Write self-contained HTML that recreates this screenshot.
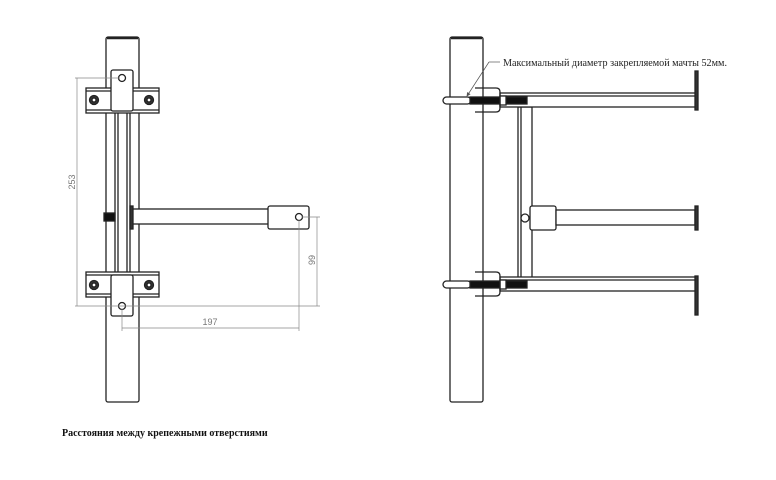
<!DOCTYPE html>
<html><head><meta charset="utf-8"><style>
body{margin:0;background:#fff;width:776px;height:480px;overflow:hidden}
svg{display:block}
</style></head><body>
<svg width="776" height="480" viewBox="0 0 776 480" xmlns="http://www.w3.org/2000/svg">
<defs>
<marker id="ar" markerWidth="6" markerHeight="6" refX="5" refY="3" orient="auto"><path d="M0,0 L6,3 L0,6 z" fill="#555"/></marker>
</defs>
<g fill="#fff" stroke="#222" stroke-width="1.3">
<!-- LEFT -->
<rect x="106" y="37" width="33" height="365" rx="2"/>
<line x1="107" y1="38" x2="138" y2="38" stroke-width="2.5"/>
<rect x="115" y="111" width="15" height="165"/>
<line x1="118" y1="111" x2="118" y2="276"/><line x1="127" y1="111" x2="127" y2="276"/>
<rect x="131" y="209" width="138" height="15"/>
<rect x="130" y="206" width="3" height="23" fill="#333"/>
<rect x="104" y="213" width="11" height="8" fill="#111"/>
<rect x="268" y="206" width="41" height="23" rx="2"/>
<circle cx="299" cy="217" r="3.5"/>
<rect x="86" y="88" width="73" height="25"/>
<line x1="86" y1="91" x2="159" y2="91"/><line x1="86" y1="110" x2="159" y2="110"/>
<rect x="111" y="70" width="22" height="41" rx="2"/>
<circle cx="122" cy="78" r="3.5"/>
<circle cx="94" cy="100" r="4.5" fill="#333"/><circle cx="94" cy="100" r="2" fill="#fff"/>
<circle cx="149" cy="100" r="4.5" fill="#333"/><circle cx="149" cy="100" r="2" fill="#fff"/>
<rect x="86" y="272" width="73" height="25"/>
<line x1="86" y1="275" x2="159" y2="275"/><line x1="86" y1="294" x2="159" y2="294"/>
<rect x="111" y="275" width="22" height="41" rx="2"/>
<circle cx="122" cy="306" r="3.5"/>
<circle cx="94" cy="285" r="4.5" fill="#333"/><circle cx="94" cy="285" r="2" fill="#fff"/>
<circle cx="149" cy="285" r="4.5" fill="#333"/><circle cx="149" cy="285" r="2" fill="#fff"/>
</g>
<g stroke="#888" stroke-width="0.7" fill="none">
<line x1="77" y1="78" x2="77" y2="306"/>
<line x1="75" y1="78" x2="120" y2="78"/><line x1="75" y1="306" x2="320" y2="306"/>
<line x1="317" y1="217" x2="317" y2="306"/><line x1="302" y1="217" x2="320" y2="217"/>
<line x1="122" y1="328" x2="299" y2="328"/>
<line x1="122" y1="309" x2="122" y2="331"/><line x1="299" y1="220" x2="299" y2="331"/>
</g>
<g font-family="Liberation Sans, sans-serif" font-size="9" fill="#777">
<text transform="translate(75,182) rotate(-90)" text-anchor="middle">253</text>
<text transform="translate(315,260) rotate(-90)" text-anchor="middle">99</text>
<text x="210" y="325" text-anchor="middle">197</text>
</g>
<!-- RIGHT -->
<g fill="#fff" stroke="#222" stroke-width="1.3">
<rect x="450" y="37" width="33" height="365" rx="2"/>
<line x1="451" y1="38" x2="482" y2="38" stroke-width="2.5"/>
<rect x="518" y="107" width="14" height="171"/>
<line x1="521" y1="107" x2="521" y2="278"/>
<rect x="500" y="93" width="197" height="14"/>
<line x1="500" y1="96" x2="697" y2="96"/>
<rect x="695" y="71" width="3" height="39" fill="#333"/>
<rect x="500" y="277" width="197" height="14"/>
<line x1="500" y1="280" x2="697" y2="280"/>
<rect x="695" y="276" width="3" height="39" fill="#333"/>
<rect x="530" y="206" width="26" height="24" rx="2"/>
<rect x="556" y="210" width="139" height="15"/>
<rect x="695" y="206" width="3" height="24" fill="#333"/>
<circle cx="525" cy="218" r="4"/>
<rect x="443" y="97" width="28" height="7" rx="3.5"/>
<rect x="470" y="97" width="57" height="7" fill="#111"/>
<rect x="500" y="96" width="6" height="9"/>
<rect x="443" y="281" width="28" height="7" rx="3.5"/>
<rect x="470" y="281" width="57" height="7" fill="#111"/>
<rect x="500" y="280" width="6" height="9"/>
<path d="M475,88 H496 Q500,88 500,92 V108 Q500,112 496,112 H475" fill="none"/>
<path d="M475,272 H496 Q500,272 500,276 V292 Q500,296 496,296 H475" fill="none"/>
</g>
<line x1="500" y1="62" x2="489" y2="62" stroke="#555" stroke-width="0.7"/>
<line x1="489" y1="62" x2="467" y2="96" stroke="#555" stroke-width="0.7" marker-end="url(#ar)"/>
<text x="503" y="66" font-family="Liberation Serif, serif" font-size="10.5" textLength="224" lengthAdjust="spacingAndGlyphs" fill="#222">Максимальный диаметр закрепляемой мачты 52мм.</text>
<text x="62" y="436" font-family="Liberation Serif, serif" font-size="10" font-weight="bold" fill="#111">Расстояния между крепежными отверстиями</text>
</svg>
</body></html>
